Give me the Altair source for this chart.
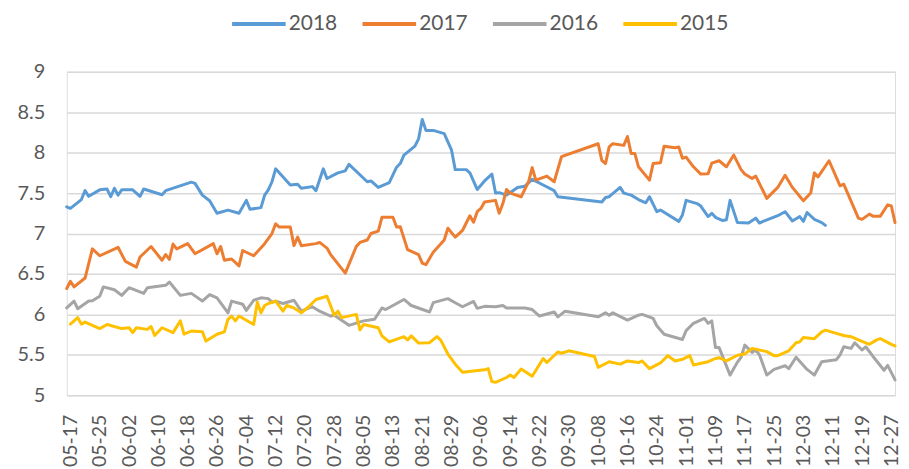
import altair as alt
import pandas as pd

# ---------------- data ----------------
SERIES = ["2018", "2017", "2016", "2015"]
COLORS = ["#5B9BD5", "#ED7D31", "#A5A5A5", "#FFC000"]

D2018 = ["05-16","05-17","05-20","05-21","05-22","05-25","05-27","05-28","05-29","05-30",
         "05-31","06-03","06-05","06-06","06-11","06-12","06-19","06-20","06-22","06-24",
         "06-26","06-29","07-02","07-04","07-05","07-08","07-09","07-10","07-11","07-12",
         "07-16","07-18","07-19","07-22","07-23","07-25","07-26","07-29","07-31","08-01",
         "08-06","08-07","08-09","08-12","08-14","08-15","08-16","08-19","08-20","08-21",
         "08-22","08-24","08-27","08-29","08-30","09-02","09-03","09-05","09-07","09-09",
         "09-10","09-11","09-13","09-16","09-18","09-20","09-23","09-26","09-27","10-09",
         "10-10","10-11","10-14","10-15","10-17","10-19","10-21","10-22","10-24","10-25",
         "10-30","10-31","11-01","11-04","11-05","11-07","11-08","11-09","11-11","11-12",
         "11-13","11-15","11-18","11-20","11-21","11-22","11-26","11-28","11-30","12-02",
         "12-03","12-04","12-06","12-08","12-09"]
V2018 = [7.33,7.31,7.42,7.53,7.46,7.54,7.55,7.455,7.56,7.475,
         7.54,7.54,7.46,7.55,7.48,7.53,7.635,7.62,7.475,7.405,
         7.25,7.29,7.25,7.41,7.30,7.32,7.475,7.54,7.64,7.80,
         7.60,7.61,7.56,7.58,7.53,7.80,7.68,7.75,7.775,7.855,
         7.64,7.65,7.57,7.63,7.82,7.865,7.97,8.08,8.17,8.41,
         8.275,8.275,8.235,8.03,7.79,7.79,7.75,7.545,7.65,7.735,
         7.50,7.505,7.475,7.57,7.585,7.67,7.60,7.53,7.455,7.39,
         7.445,7.455,7.57,7.50,7.475,7.42,7.38,7.455,7.27,7.29,
         7.15,7.23,7.41,7.37,7.34,7.21,7.25,7.20,7.16,7.17,
         7.41,7.135,7.13,7.19,7.13,7.15,7.22,7.27,7.155,7.21,
         7.15,7.26,7.175,7.135,7.10]

D2017 = ["05-16","05-17","05-18","05-21","05-23","05-25","05-30","06-01","06-04","06-05",
         "06-08","06-11","06-12","06-13","06-14","06-15","06-18","06-20","06-25","06-26",
         "06-27","06-28","06-30","07-02","07-03","07-06","07-09","07-11","07-12","07-13",
         "07-16","07-17","07-18","07-19","07-23","07-24","07-26","07-27","07-31","08-03",
         "08-04","08-06","08-07","08-09","08-10","08-13","08-14","08-15","08-17","08-20",
         "08-21","08-22","08-24","08-27","08-28","08-30","09-01","09-03","09-04","09-05",
         "09-06","09-07","09-10","09-11","09-12","09-13","09-14","09-17","09-19","09-20",
         "09-21","09-24","09-26","09-28","10-08","10-09","10-10","10-11","10-12","10-15",
         "10-16","10-17","10-18","10-19","10-22","10-23","10-25","10-26","10-29","10-30",
         "10-31","11-01","11-03","11-05","11-07","11-08","11-10","11-12","11-14","11-16",
         "11-17","11-19","11-20","11-23","11-26","11-28","11-30","12-03","12-05","12-06",
         "12-07","12-10","12-13","12-14","12-18","12-19","12-21","12-22","12-24","12-26",
         "12-27","12-28"]
V2017 = [6.32,6.41,6.34,6.45,6.81,6.725,6.83,6.655,6.585,6.71,
         6.84,6.67,6.74,6.68,6.87,6.81,6.875,6.75,6.875,6.75,
         6.84,6.67,6.685,6.60,6.79,6.725,6.875,7.00,7.12,7.08,
         7.08,6.85,6.955,6.85,6.875,6.89,6.82,6.74,6.51,6.84,
         6.89,6.92,7.00,7.03,7.20,7.20,7.08,7.085,6.80,6.74,
         6.635,6.615,6.77,6.92,7.065,6.955,7.04,7.22,7.14,7.27,
         7.31,7.39,7.41,7.25,7.37,7.545,7.50,7.455,7.64,7.815,
         7.66,7.71,7.64,7.95,8.11,7.905,7.865,8.07,8.11,8.09,
         8.20,7.99,7.99,7.825,7.66,7.865,7.875,8.08,8.06,8.07,
         7.93,7.945,7.825,7.735,7.74,7.87,7.90,7.825,7.97,7.79,
         7.735,7.68,7.71,7.435,7.57,7.72,7.57,7.405,7.50,7.75,
         7.70,7.90,7.59,7.61,7.19,7.175,7.24,7.215,7.215,7.355,
         7.34,7.135]

D2016 = ["05-16","05-18","05-19","05-22","05-23","05-25","05-26","05-29","05-31","06-02",
         "06-06","06-07","06-12","06-13","06-16","06-19","06-22","06-24","06-26","06-28",
         "06-29","06-30","07-03","07-04","07-06","07-08","07-10","07-11","07-12","07-14",
         "07-17","07-19","07-22","07-24","07-27","07-28","08-01","08-05","08-08","08-10",
         "08-11","08-14","08-16","08-18","08-23","08-24","08-28","08-30","09-01","09-04",
         "09-05","09-07","09-10","09-12","09-13","09-18","09-20","09-22","09-26","09-27",
         "09-29","10-08","10-10","10-11","10-12","10-16","10-19","10-20","10-23","10-24",
         "10-26","10-31","11-01","11-03","11-06","11-07","11-08","11-09","11-10","11-13",
         "11-15","11-16","11-17","11-19","11-20","11-21","11-23","11-25","11-28","11-29",
         "11-30","12-01","12-04","12-06","12-08","12-12","12-13","12-14","12-16","12-17",
         "12-19","12-20","12-22","12-25","12-26","12-28"]
V2016 = [6.08,6.165,6.07,6.165,6.17,6.225,6.34,6.305,6.235,6.33,
         6.26,6.33,6.36,6.40,6.235,6.26,6.165,6.245,6.205,6.08,
         6.02,6.165,6.125,6.05,6.175,6.205,6.195,6.15,6.165,6.135,
         6.175,6.04,6.095,6.04,5.98,5.99,5.865,5.92,5.94,6.08,
         6.06,6.135,6.185,6.11,6.03,6.145,6.195,6.145,6.095,6.16,
         6.075,6.10,6.095,6.11,6.08,6.08,6.06,5.98,6.03,5.97,
         6.04,5.97,6.02,5.99,6.02,5.93,5.99,6.00,5.95,5.86,
         5.755,5.69,5.80,5.89,5.95,5.89,5.92,5.59,5.59,5.25,
         5.41,5.47,5.62,5.53,5.56,5.50,5.25,5.32,5.365,5.33,
         5.40,5.47,5.32,5.25,5.415,5.44,5.50,5.60,5.58,5.65,
         5.56,5.60,5.48,5.31,5.37,5.19]

D2015 = ["05-17","05-19","05-20","05-21","05-25","05-27","05-31","06-02","06-03","06-04",
         "06-07","06-08","06-09","06-11","06-14","06-16","06-17","06-19","06-22","06-23",
         "06-26","06-28","06-29","06-30","07-01","07-02","07-06","07-07","07-08","07-09",
         "07-10","07-12","07-14","07-15","07-17","07-19","07-21","07-23","07-26","07-28",
         "07-29","07-30","08-03","08-04","08-05","08-09","08-10","08-12","08-16","08-17",
         "08-18","08-20","08-23","08-25","08-26","08-28","08-30","09-01","09-04","09-07",
         "09-08","09-09","09-10","09-13","09-14","09-15","09-17","09-20","09-23","09-24",
         "09-27","09-28","09-30","10-07","10-08","10-11","10-14","10-16","10-19","10-20",
         "10-22","10-25","10-27","10-29","10-31","11-02","11-03","11-07","11-09","11-10",
         "11-12","11-15","11-17","11-19","11-23","11-25","11-26","11-29","12-01","12-02",
         "12-03","12-06","12-08","12-09","12-12","12-14","12-16","12-18","12-21","12-23",
         "12-24","12-27","12-28"]
V2015 = [5.88,5.96,5.88,5.905,5.825,5.875,5.825,5.835,5.775,5.835,
         5.815,5.85,5.74,5.835,5.775,5.92,5.755,5.795,5.785,5.67,
         5.755,5.785,5.94,5.98,5.92,5.98,5.875,6.15,6.02,6.11,
         6.135,6.165,6.04,6.11,6.08,6.02,6.095,6.185,6.225,5.99,
         6.04,5.96,6.00,5.81,5.875,5.835,5.735,5.66,5.725,5.685,
         5.735,5.645,5.65,5.725,5.685,5.51,5.385,5.285,5.30,5.315,
         5.33,5.17,5.16,5.22,5.25,5.22,5.325,5.235,5.455,5.405,
         5.535,5.52,5.55,5.48,5.345,5.415,5.385,5.425,5.405,5.425,
         5.33,5.40,5.49,5.425,5.445,5.49,5.375,5.415,5.455,5.465,
         5.425,5.495,5.51,5.58,5.54,5.49,5.49,5.55,5.65,5.66,
         5.715,5.70,5.785,5.805,5.765,5.74,5.725,5.685,5.63,5.685,
         5.70,5.63,5.61]

X_TICKS = ["05-17","05-25","06-02","06-10","06-18","06-26","07-04","07-12","07-20","07-28",
           "08-05","08-13","08-21","08-29","09-06","09-14","09-22","09-30","10-08","10-16",
           "10-24","11-01","11-09","11-17","11-25","12-03","12-11","12-19","12-27"]
X_DOMAIN = ["05-16", "12-28"]
Y_TICKS = [5, 5.5, 6, 6.5, 7, 7.5, 8, 8.5, 9]

BASE_YEAR = 2018  # all series drawn on a common month-day axis


def dt(md):
    m, d = md.split("-")
    return alt.DateTime(year=BASE_YEAR, month=int(m), date=int(d))


rows = []
for name, ds, vs in [("2018", D2018, V2018), ("2017", D2017, V2017),
                     ("2016", D2016, V2016), ("2015", D2015, V2015)]:
    for d, v in zip(ds, vs):
        rows.append({"date": f"{BASE_YEAR}-{d}T00:00:00", "value": v, "series": name})
df = pd.DataFrame(rows)

FONT = "Lato"
TEXT = "#595959"

chart = (
    alt.Chart(df)
    .mark_line(strokeWidth=3, strokeJoin="round", strokeCap="round")
    .encode(
        x=alt.X(
            "date:T",
            scale=alt.Scale(domain=[dt(X_DOMAIN[0]), dt(X_DOMAIN[1])], nice=False, padding=0),
            axis=alt.Axis(
                title=None, values=[dt(t) for t in X_TICKS], format="%m-%d",
                labelAngle=270, labelFontSize=19.5, labelFont=FONT, labelColor=TEXT,
                labelPadding=19, ticks=False, domain=False, grid=False,
                labelOverlap=False, labelFlush=False,
            ),
        ),
        y=alt.Y(
            "value:Q",
            scale=alt.Scale(domain=[5, 9], nice=False, zero=False),
            axis=alt.Axis(
                title=None, values=Y_TICKS, format="~g",
                labelFontSize=20, labelFont=FONT, labelColor=TEXT,
                labelPadding=22, ticks=False, domain=False,
                grid=True, gridColor="#D9D9D9", gridWidth=1.5,
            ),
        ),
        color=alt.Color(
            "series:N",
            scale=alt.Scale(domain=SERIES, range=COLORS),
            legend=alt.Legend(
                title=None, orient="none", legendX=164, legendY=-77,
                direction="horizontal", columns=4, columnPadding=17,
                symbolType="stroke", symbolSize=2900, symbolStrokeWidth=4,
                labelFontSize=21, labelFont=FONT, labelColor=TEXT,
                labelOffset=1, padding=0,
            ),
        ),
        order=alt.Order("series:N", sort="descending"),
    )
    .properties(
        width=832, height=325,
        autosize=alt.AutoSizeParams(type="none"),
        padding={"left": 59, "top": 63, "right": 6, "bottom": 74},
    )
    .configure_view(stroke=None)
    .configure(background="white")
)

chart.save("out.html", embed_options={"renderer": "svg", "actions": False})
